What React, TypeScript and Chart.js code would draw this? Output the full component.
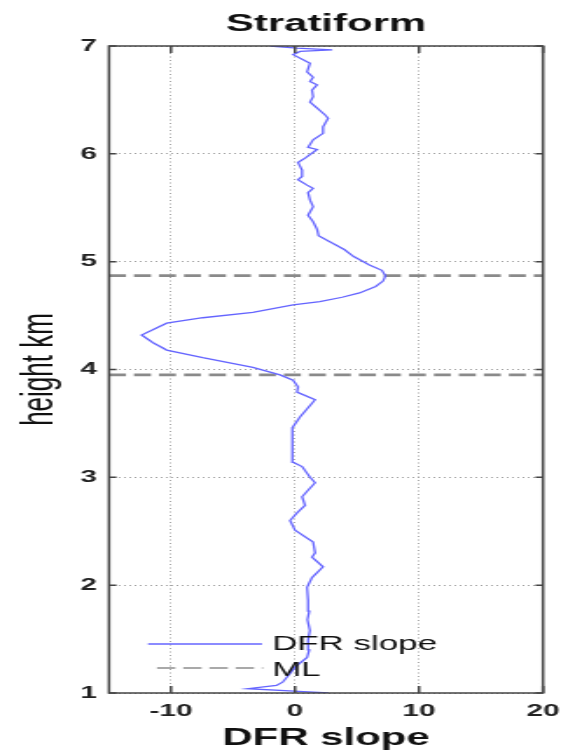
import React, { useEffect, useRef } from 'react';
import { Chart, registerables } from 'chart.js';

Chart.register(...registerables);

// ---- data ----
const heights = [
  1.0, 1.015, 1.04, 1.07, 1.1, 1.18, 1.24, 1.33, 1.4, 1.49, 1.58, 1.68, 1.76, 1.86, 1.98,
  2.07, 2.17, 2.26, 2.3, 2.4, 2.51, 2.6, 2.67, 2.74, 2.82, 2.88, 2.95,
  3.0, 3.1, 3.14, 3.24, 3.35, 3.46, 3.56, 3.72, 3.79, 3.84, 3.9, 3.95,
  4.02, 4.11, 4.18, 4.25, 4.32, 4.43, 4.48, 4.53, 4.6, 4.63, 4.67, 4.71, 4.77, 4.82, 4.87, 4.92,
  4.97, 5.05, 5.11, 5.24, 5.3, 5.37, 5.43, 5.51, 5.57, 5.64, 5.68, 5.71, 5.76, 5.79, 5.85, 5.92, 5.96,
  6.04, 6.06, 6.13, 6.19, 6.25, 6.33, 6.36, 6.44, 6.48, 6.53, 6.59, 6.64, 6.67, 6.71, 6.76, 6.84,
  6.92, 6.95, 6.965, 6.98, 7.0,
];
const dfrSlope = [
  2.7, 0.3, -3.8, -1.5, -1.0, -0.4, 0.0, 0.97, 1.15, 1.05, 1.2, 1.0, 1.15, 1.05, 0.97,
  1.37, 2.26, 1.37, 1.62, 1.46, 0.0, -0.4, 0.16, 0.81, 0.57, 1.05, 1.62,
  1.21, 0.57, -0.16, -0.24, -0.24, -0.16, 0.4, 1.62, 0.16, 0.24, -0.16, -1.21,
  -3.4, -7.44, -10.35, -11.48, -12.37, -10.35, -7.44, -3.4, -0.16, 2.0, 3.8, 5.2, 6.5, 7.1, 7.3, 7.0,
  6.0, 4.7, 4.0, 1.9, 1.78, 1.46, 1.05, 1.46, 1.21, 1.05, 1.46, 0.97, 0.24, 0.57, 0.57, 0.24, 0.81,
  1.78, 1.05, 1.46, 2.26, 2.26, 2.67, 2.43, 1.62, 1.21, 1.46, 1.37, 1.78, 1.21, 1.46, 0.97, 1.21,
  -0.16, 0.4, 3.0, 0.16, -2.0,
];
const mlHeights = [3.95, 4.87];
const xRange = [-15, 20];
const yRange = [1, 7];
const xTicks = [-10, 0, 10, 20];
const yTicks = [1, 2, 3, 4, 5, 6, 7];
const seriesLabel = 'DFR slope';
const mlLabel = 'ML';
const titleText = 'Stratiform';
const xTitle = 'DFR slope';
const yTitle = 'height km';

// ---- layout (internal canvas is stretched horizontally to 575px) ----
const W = 329;
const H = 754;
const SX = 575 / W;
const FAMILY = "'Liberation Sans', Arial, Helvetica, sans-serif";

const framePlugin = {
  id: 'frame',
  afterDraw(chart: any) {
    const { ctx, chartArea: a, scales } = chart;
    const x = scales.x;
    const y = scales.y;
    ctx.save();
    ctx.setLineDash([]);
    ctx.strokeStyle = '#444';
    ctx.lineWidth = 1.5;
    ctx.strokeRect(a.left, a.top, a.right - a.left, a.bottom - a.top);
    ctx.beginPath();
    xTicks.forEach((v) => {
      const px = x.getPixelForValue(v);
      ctx.moveTo(px, a.bottom);
      ctx.lineTo(px, a.bottom - 7);
      ctx.moveTo(px, a.top);
      ctx.lineTo(px, a.top + 7);
    });
    yTicks.forEach((v) => {
      const py = y.getPixelForValue(v);
      ctx.moveTo(a.left, py);
      ctx.lineTo(a.left + 4.3, py);
      ctx.moveTo(a.right, py);
      ctx.lineTo(a.right - 4.3, py);
    });
    ctx.stroke();

    // legend (no box), lower-left inside axes
    const ds0 = chart.data.datasets[0];
    const ds1 = chart.data.datasets[1];
    const l1y = 644;
    const l2y = 668;
    ctx.beginPath();
    ctx.strokeStyle = ds0.borderColor;
    ctx.lineWidth = ds0.borderWidth;
    ctx.moveTo(148 / SX, l1y);
    ctx.lineTo(262 / SX, l1y);
    ctx.stroke();
    ctx.beginPath();
    ctx.strokeStyle = '#555';
    ctx.lineWidth = 1.1;
    ctx.setLineDash([10.5, 4.5]);
    ctx.moveTo(157 / SX, l2y);
    ctx.lineTo(263 / SX, l2y);
    ctx.stroke();
    ctx.setLineDash([]);
    ctx.fillStyle = '#111';
    ctx.font = `20px ${FAMILY}`;
    ctx.textBaseline = 'middle';
    ctx.textAlign = 'left';
    ctx.fillText(ds0.label, 272 / SX, l1y + 0.5);
    ctx.fillText(ds1.label, 272 / SX, l2y + 2);
    ctx.restore();
  },
};

export default function App() {
  const ref = useRef<HTMLCanvasElement>(null);
  useEffect(() => {
    const canvas = ref.current;
    if (!canvas) return;
    const lineData = heights.map((h, i) => ({ x: dfrSlope[i], y: h }));
    const mlSets = mlHeights.map((h, i) => ({
      label: mlLabel,
      data: [
        { x: xRange[0], y: h },
        { x: xRange[1], y: h },
      ],
      borderColor: '#8a8a8a',
      borderWidth: 2.8,
      borderDash: [9.7, 4.6],
      pointRadius: 0,
      fill: false,
      order: 2 + i,
    }));
    const chart = new Chart(canvas, {
      type: 'line',
      data: {
        datasets: [
          {
            label: seriesLabel,
            data: lineData,
            borderColor: 'rgb(100,100,255)',
            borderWidth: 1.3,
            pointRadius: 0,
            tension: 0,
            fill: false,
            order: 1,
          },
          ...mlSets,
        ],
      },
      options: {
        responsive: false,
        animation: false,
        devicePixelRatio: 1,
        font: { family: FAMILY },
        layout: { padding: { left: 0, right: W - 543 / SX, top: 0, bottom: 0 } },
        plugins: {
          legend: { display: false },
          tooltip: { enabled: false },
          title: {
            display: true,
            text: titleText,
            fullSize: false,
            color: '#111',
            font: { family: FAMILY, size: 24, weight: 'bold' },
            padding: { top: 10, bottom: 7.2 },
          },
        },
        scales: {
          x: {
            type: 'linear',
            min: xRange[0],
            max: xRange[1],
            afterBuildTicks: (s: any) => {
              s.ticks = xTicks.map((v) => ({ value: v }));
            },
            afterFit: (s: any) => {
              s.height = H - 693;
            },
            grid: { color: '#a8a8a8', lineWidth: 1, drawTicks: false },
            border: { display: false, dash: [1, 2.5] },
            ticks: {
              color: '#222',
              font: { family: FAMILY, size: 17, weight: 'bold' },
              padding: 8,
              maxRotation: 0,
              autoSkip: false,
            },
            title: {
              display: true,
              text: xTitle,
              color: '#111',
              font: { family: FAMILY, size: 24, weight: 'bold' },
              padding: { top: 0, bottom: 1 },
            },
          },
          y: {
            type: 'linear',
            min: yRange[0],
            max: yRange[1],
            afterBuildTicks: (s: any) => {
              s.ticks = yTicks.map((v) => ({ value: v }));
            },
            afterFit: (s: any) => {
              s.width = 109 / SX;
            },
            grid: { color: '#a0a0a0', lineWidth: 1, drawTicks: false },
            border: { display: false, dash: [1, 2] },
            ticks: {
              color: '#222',
              font: { family: FAMILY, size: 17, weight: 'bold' },
              padding: 7,
              autoSkip: false,
            },
            title: {
              display: true,
              text: yTitle,
              color: '#111',
              font: { family: FAMILY, size: 26, weight: 'normal' },
              padding: { top: 7.7, bottom: 0 },
            },
          },
        },
      } as any,
      plugins: [framePlugin],
    });
    return () => chart.destroy();
  }, []);

  return (
    <canvas
      ref={ref}
      width={W}
      height={H}
      style={{ position: 'absolute', left: 0, top: 0, width: '575px', height: '754px' }}
    />
  );
}
